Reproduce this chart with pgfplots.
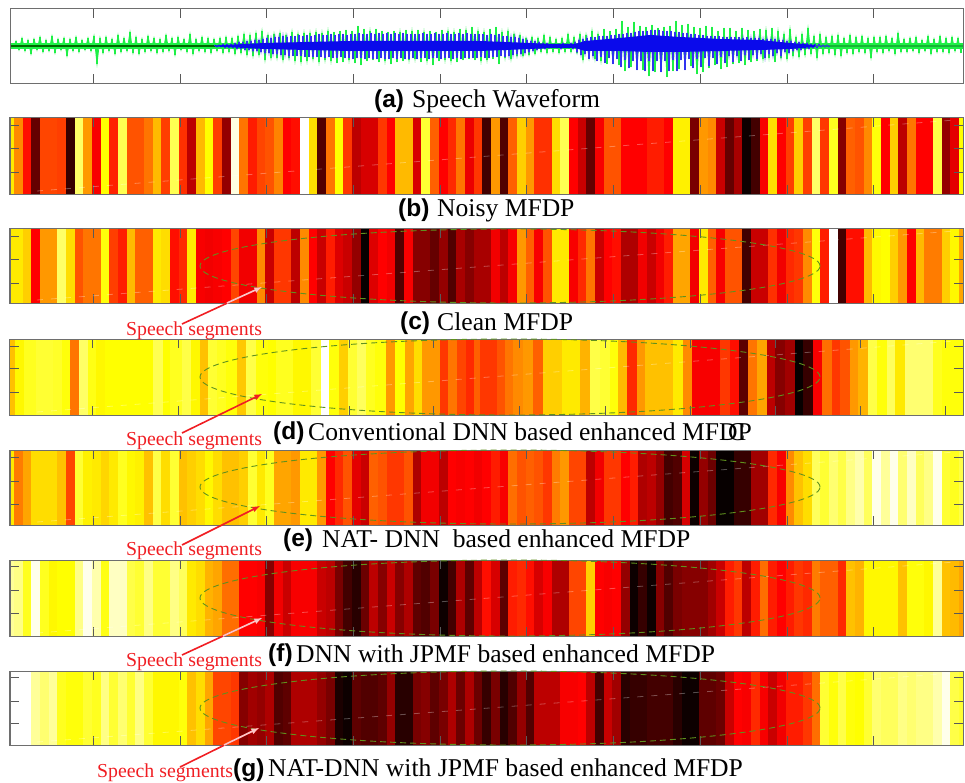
\documentclass[border=0pt]{standalone}
\usepackage{pgfplots}
\usepackage{pgfplotstable}
\pgfplotsset{compat=1.18}
\usepackage{fontspec}
\setmainfont{Liberation Serif}
\newfontfamily\capsans{Liberation Sans}
\definecolor{frame}{RGB}{110,110,110}
\definecolor{ell}{RGB}{95,145,30}
\definecolor{arrowred}{RGB}{240,30,35}
\definecolor{wavegreen}{RGB}{30,240,70}
\definecolor{waveblue}{RGB}{10,10,235}
\definecolor{spikeblue}{RGB}{50,50,240}
\pgfdeclareplotmark{cell}{\pgfpathrectangle{\pgfpoint{0pt}{-90pt}}{\pgfpoint{24pt}{180pt}}\pgfusepathqfill}
\pgfplotsset{
  panelbase/.style={scale only axis,anchor=north west,width=953pt,xmin=10,xmax=963,
    axis line style={frame,line width=1pt},axis on top,
    xtick={93.3,180,266.7,353.4,440.1,526.8,613.5,700.2,786.9,873.6},
    xticklabels={},yticklabels={},
    tick style={color=black!65,line width=.8pt},major tick length=9pt,tick align=inside},
  stripaxis/.style 2 args={panelbase,at={(10pt,-#1pt)},height=#2pt,ymin=0,ymax=#2,
    clip marker paths=true,
    colormap={myhot}{[1pt] rgb255(0pt)=(0,0,0); rgb255(38pt)=(255,0,0); rgb255(75pt)=(255,255,0); rgb255(100pt)=(255,255,255)},
    point meta min=0,point meta max=100},
  heatcolumns/.style={scatter,only marks,mark=cell,
    scatter/use mapped color={draw=none,fill=mapped color}},
  table/regcols/.style={row sep=\\,header=false,x expr=5.33+8.67*\coordindex,y expr=30},
  table/explicitcols/.style={row sep=\\,header=false,x index=0,y expr=30}
}
\pgfplotstableread[row sep=\\,header=false]{2\\-2\\5\\-4\\8\\-5\\6\\-8\\7\\-4\\9\\-6\\6\\-5\\10\\-7\\7\\-4\\8\\-10\\7\\-5\\9\\-6\\6\\-4\\8\\-5\\10\\-18\\8\\-7\\9\\-5\\7\\-8\\11\\-6\\8\\-5\\14\\-7\\9\\-8\\7\\-6\\10\\-5\\8\\-7\\7\\-6\\11\\-5\\8\\-9\\9\\-4\\7\\-6\\12\\-8\\7\\-5\\9\\-6\\8\\-7\\7\\-5\\8\\-7\\9\\-6\\8\\-8\\10\\-7\\12\\-9\\11\\-10\\13\\-9\\15\\-14\\11\\-12\\12\\-12\\13\\-14\\11\\-12\\14\\-15\\12\\-16\\13\\-15\\13\\-13\\14\\-16\\13\\-14\\15\\-15\\14\\-17\\15\\-16\\16\\-14\\15\\-17\\20\\-19\\17\\-15\\15\\-14\\17\\-16\\15\\-15\\14\\-18\\15\\-16\\14\\-15\\16\\-14\\15\\-13\\16\\-16\\14\\-15\\15\\-19\\14\\-15\\16\\-14\\15\\-15\\14\\-16\\17\\-14\\16\\-13\\19\\-14\\15\\-15\\14\\-14\\17\\-13\\19\\-18\\14\\-12\\15\\-13\\12\\-10\\11\\-10\\8\\-9\\9\\-8\\8\\-6\\11\\-7\\9\\-6\\7\\-7\\8\\-6\\12\\-6\\9\\-7\\12\\-14\\11\\-12\\15\\-13\\12\\-15\\17\\-18\\15\\-17\\17\\-19\\25\\-25\\19\\-21\\24\\-22\\20\\-24\\19\\-30\\21\\-26\\18\\-25\\19\\-31\\20\\-25\\25\\-23\\21\\-21\\22\\-20\\19\\-28\\18\\-26\\20\\-22\\19\\-19\\15\\-23\\18\\-21\\18\\-18\\15\\-17\\18\\-19\\16\\-16\\15\\-15\\17\\-13\\16\\-12\\18\\-16\\15\\-12\\12\\-13\\17\\-10\\9\\-11\\12\\-9\\18\\-8\\10\\-12\\12\\-8\\9\\-7\\10\\-9\\11\\-10\\8\\-7\\11\\-8\\9\\-6\\10\\-7\\8\\-12\\9\\-6\\9\\-7\\10\\-5\\8\\-8\\13\\-6\\7\\-6\\8\\-5\\9\\-7\\6\\-5\\10\\-8\\7\\-6\\10\\-6\\8\\-7\\9\\-5\\8\\-7\\}\greenwave
\pgfplotstableread[row sep=\\,header=false]{1\\-1\\1\\-1\\2\\-2\\2\\-2\\2\\-2\\3\\-3\\4\\-3\\4\\-4\\5\\-4\\5\\-5\\6\\-5\\6\\-6\\7\\-7\\8\\-7\\8\\-8\\9\\-8\\9\\-9\\10\\-9\\9\\-10\\10\\-10\\10\\-10\\11\\-10\\10\\-11\\11\\-11\\10\\-11\\11\\-11\\12\\-11\\11\\-12\\11\\-11\\12\\-12\\11\\-12\\12\\-11\\12\\-12\\11\\-12\\12\\-13\\12\\-12\\13\\-12\\12\\-13\\12\\-12\\13\\-13\\12\\-13\\13\\-12\\12\\-13\\13\\-13\\12\\-12\\13\\-13\\12\\-12\\13\\-13\\12\\-13\\12\\-12\\12\\-13\\12\\-12\\13\\-12\\12\\-13\\12\\-12\\13\\-12\\12\\-13\\12\\-12\\13\\-12\\12\\-13\\12\\-12\\13\\-13\\12\\-12\\13\\-12\\12\\-12\\12\\-12\\12\\-11\\12\\-12\\11\\-12\\12\\-11\\11\\-11\\12\\-10\\10\\-11\\10\\-10\\9\\-9\\9\\-8\\8\\-8\\7\\-7\\6\\-6\\5\\-5\\5\\-4\\4\\-3\\3\\-3\\3\\-2\\2\\-2\\2\\-2\\2\\-3\\3\\-2\\2\\-2\\3\\-3\\4\\-6\\6\\-9\\7\\-8\\8\\-13\\9\\-10\\9\\-15\\10\\-11\\10\\-17\\10\\-12\\11\\-18\\11\\-13\\12\\-21\\12\\-14\\13\\-22\\13\\-15\\14\\-24\\15\\-15\\15\\-25\\15\\-15\\16\\-25\\16\\-15\\16\\-26\\15\\-15\\15\\-25\\15\\-14\\14\\-25\\14\\-14\\13\\-24\\13\\-13\\12\\-22\\12\\-13\\11\\-21\\11\\-12\\10\\-20\\10\\-12\\10\\-18\\10\\-11\\9\\-17\\9\\-10\\9\\-16\\9\\-10\\9\\-15\\8\\-9\\9\\-14\\8\\-9\\8\\-13\\8\\-8\\7\\-12\\7\\-8\\7\\-10\\7\\-7\\6\\-10\\6\\-6\\5\\-7\\5\\-5\\4\\-4\\4\\-4\\3\\-3\\3\\-3\\2\\-2\\2\\-2\\2\\-1\\1\\-1\\1\\-1\\}\bluewave
\newcommand\seg[6]{%
 \draw[arrowred,line width=1.6pt,-latex] (#1pt,-#2pt) -- (#3pt,-#4pt);
 \node[anchor=base west,inner sep=0pt,text=arrowred] at (#5pt,-#6pt) {\fontsize{19.8}{20}\selectfont Speech segments};}
\newcommand\deco[2]{%
 \draw[white,opacity=.3,dash pattern=on 6pt off 8pt,line width=.8pt] (37pt,-#2pt+3pt) -- (955pt,-#1pt-2pt);}
\newcommand\ellip[2]{\draw[ell,dash pattern=on 6pt off 4pt,line width=.9pt] (510pt,-#1pt) ellipse [x radius=310pt,y radius=#2pt];}
\newcommand\Tcap[3]{\node[anchor=base west,inner sep=0pt] at (#1pt,-#3pt) {\capsans\bfseries\fontsize{24.5}{24.5}\selectfont #2};}
\newcommand\Ccap[3]{\node[anchor=base west,inner sep=0pt] at (#1pt,-#2pt) {\fontsize{25.6}{26}\selectfont #3};}
\begin{document}
\begin{tikzpicture}[x=1pt,y=1pt]
\path[use as bounding box] (0pt,0pt) rectangle (965pt,-783pt);
% ---------- (a) waveform
\begin{axis}[panelbase,at={(10pt,-9pt)},height=74pt,ymin=-37,ymax=37,ytick=\empty]
\addplot[no marks,wavegreen,line width=.8pt] table[x expr=10+3*\coordindex,y index=0] {\greenwave};
\addplot[ycomb,no marks,wavegreen,line width=1.1pt] table[x expr=10+3*\coordindex,y index=0] {\greenwave};
\addplot[wavegreen,line width=6pt] coordinates {(10,0)(963,0)};
\addplot[black!60!green,line width=1.3pt] coordinates {(10,0)(215,0)};
\addplot[wavegreen!75!black,line width=1.3pt] coordinates {(815,0)(963,0)};
\addplot[no marks,spikeblue,line width=.8pt] table[x expr=215+2*\coordindex,y index=0] {\bluewave};
\addplot[ycomb,no marks,spikeblue,line width=1.2pt] table[x expr=215+2*\coordindex,y index=0] {\bluewave};
\addplot[fill=waveblue,draw=none] coordinates {(215,0.5)(265,3)(350,5)(480,5)(530,3)(550,2)(575,2)(585,5)(620,8)(650,11)(680,9)(720,7)(760,6)(790,3)(815,1)(815,-1)(790,-3)(760,-4)(720,-5)(680,-6)(650,-6)(620,-5)(585,-5)(575,-2)(550,-2)(530,-3)(480,-5)(350,-5)(265,-3)(215,-0.5)} \closedcycle;
\end{axis}
% ---------- (b)
\begin{axis}[stripaxis={118}{76},ytick={22,46,69}]
\addplot[heatcolumns,point meta=\thisrowno{1}] table[explicitcols] {10 72\\};
\addplot[heatcolumns,point meta=\thisrowno{0}] table[regcols] {72\\58\\40\\15\\48\\48\\47\\8\\85\\60\\37\\75\\43\\83\\50\\50\\55\\65\\47\\83\\45\\28\\65\\75\\47\\22\\97\\55\\42\\48\\50\\57\\38\\40\\100\\70\\12\\55\\75\\46\\28\\32\\32\\46\\38\\65\\65\\32\\80\\52\\38\\44\\55\\35\\46\\10\\60\\12\\52\\68\\60\\45\\45\\70\\83\\38\\30\\15\\37\\50\\50\\38\\38\\38\\42\\42\\38\\73\\73\\18\\60\\58\\30\\15\\25\\2\\10\\37\\70\\38\\47\\68\\47\\85\\46\\78\\20\\52\\50\\58\\76\\38\\68\\28\\55\\38\\38\\82\\22\\34\\75\\};
\end{axis}
% ---------- (c)
\begin{axis}[stripaxis={229}{74},ytick={20,44,67}]
\addplot[heatcolumns,point meta=\thisrowno{1}] table[explicitcols] {10 72\\};
\addplot[heatcolumns,point meta=\thisrowno{0}] table[regcols] {72\\72\\68\\38\\60\\60\\85\\70\\50\\55\\55\\76\\47\\42\\65\\52\\52\\72\\70\\40\\44\\72\\37\\36\\37\\38\\48\\36\\36\\58\\30\\46\\46\\28\\58\\38\\30\\42\\33\\30\\22\\1\\33\\38\\36\\12\\37\\20\\20\\15\\22\\12\\25\\20\\25\\25\\36\\28\\37\\60\\52\\37\\50\\72\\72\\37\\44\\55\\30\\38\\40\\26\\26\\36\\30\\36\\42\\62\\62\\36\\72\\52\\37\\50\\50\\10\\30\\30\\45\\36\\44\\46\\58\\76\\42\\100\\10\\40\\40\\65\\74\\75\\68\\60\\38\\65\\56\\56\\68\\74\\62\\};
\end{axis}
% ---------- (d)
\begin{axis}[stripaxis={339}{76},ytick={23,47,69},xtick={92.3,178.7,263,349,433,519,605,690,775.7,860,945.7}]
\addplot[heatcolumns,point meta=\thisrowno{1}] table[explicitcols] {10 66\\15 74\\24 78\\36 80\\44.7 80\\53.3 79\\61.7 76\\70.3 55\\79 85\\87.7 77\\96 74\\104.7 75\\113.3 75\\122 75\\130.3 75\\139 75\\147.7 75\\153.3 83\\163 75\\170 78\\182 82\\190.7 74\\200 66\\208 80\\217 78\\226 76\\237 67\\246 82\\256 76\\268 75\\276 78\\293 74\\311 80\\320.7 100\\329.3 76\\339 68\\348 80\\357 84\\366 78\\375 76\\386 60\\395 75\\405 62\\414 70\\422 60\\440 46\\448 55\\457 48\\466 44\\474 52\\480 46\\488 46\\497 50\\505 55\\513 58\\523 60\\533 52\\543 68\\552 68\\562 72\\570 72\\580 64\\590 82\\600 80\\610 76\\618 65\\627 44\\637 60\\645 66\\655 66\\663 66\\673 72\\683 58\\692 37\\702 37\\710 37\\720 46\\730 40\\739 14\\748 55\\757 62\\767 28\\775 20\\785 24\\795 1\\803 8\\813 37\\822 54\\832 46\\840 50\\850 60\\858 64\\868 82\\877 76\\887 84\\895 72\\905 86\\913 86\\923 86\\933 78\\942 76\\952 76\\};
\end{axis}
% ---------- (e)
\begin{axis}[stripaxis={450}{75},ytick={21,44,68}]
\addplot[heatcolumns,point meta=\thisrowno{1}] table[explicitcols] {10 72\\};
\addplot[heatcolumns,point meta=\thisrowno{0}] table[regcols] {72\\56\\62\\70\\70\\70\\66\\48\\80\\73\\72\\69\\72\\78\\74\\73\\66\\82\\70\\80\\66\\68\\70\\74\\70\\66\\66\\68\\80\\72\\78\\62\\62\\60\\72\\72\\60\\38\\44\\50\\34\\30\\52\\50\\46\\46\\50\\26\\36\\36\\28\\38\\37\\38\\36\\38\\42\\37\\54\\50\\52\\50\\46\\56\\60\\48\\48\\28\\36\\46\\46\\38\\42\\26\\28\\22\\10\\12\\32\\2\\22\\16\\1\\1\\8\\8\\24\\24\\44\\37\\58\\66\\70\\84\\80\\86\\82\\88\\92\\84\\98\\90\\98\\86\\94\\84\\88\\98\\80\\78\\82\\};
\end{axis}
% ---------- (f)
\begin{axis}[stripaxis={560}{76},ytick={23,46,70}]
\addplot[heatcolumns,point meta=\thisrowno{1}] table[explicitcols] {10 90\\};
\addplot[heatcolumns,point meta=\thisrowno{0}] table[regcols] {90\\88\\78\\98\\78\\74\\75\\75\\88\\98\\92\\77\\94\\94\\82\\80\\88\\80\\80\\88\\84\\72\\70\\64\\62\\54\\54\\38\\38\\37\\20\\36\\30\\37\\37\\37\\30\\28\\18\\10\\6\\16\\28\\20\\30\\20\\26\\14\\12\\18\\2\\10\\26\\14\\28\\40\\32\\14\\42\\44\\40\\32\\37\\26\\26\\48\\48\\68\\38\\37\\38\\22\\2\\8\\2\\20\\12\\18\\20\\20\\20\\24\\30\\42\\46\\28\\42\\54\\42\\38\\42\\46\\44\\56\\52\\52\\44\\66\\64\\74\\74\\74\\74\\66\\76\\76\\74\\90\\66\\65\\62\\};
\end{axis}
% ---------- (g)
\begin{axis}[stripaxis={671}{74},ytick={22,44,68}]
\addplot[heatcolumns,point meta=\thisrowno{0}] table[regcols] {100\\100\\100\\90\\86\\90\\78\\76\\76\\80\\78\\88\\80\\86\\80\\88\\80\\74\\74\\74\\76\\66\\70\\62\\48\\48\\46\\20\\24\\22\\26\\12\\14\\26\\26\\26\\22\\18\\4\\2\\14\\12\\12\\14\\22\\6\\6\\18\\20\\14\\18\\26\\16\\26\\16\\8\\18\\6\\12\\22\\12\\28\\28\\28\\37\\37\\38\\28\\10\\30\\24\\6\\8\\8\\10\\10\\10\\6\\2\\2\\14\\14\\16\\30\\38\\37\\44\\37\\30\\36\\42\\42\\46\\54\\80\\76\\82\\76\\75\\80\\86\\84\\84\\88\\86\\88\\88\\92\\98\\82\\80\\};
\end{axis}
% ---------- annotations
\deco{118}{194}\deco{229}{303}\deco{339}{415}\deco{450}{525}\deco{560}{636}\deco{671}{745}
\ellip{266}{37}\ellip{377}{38}\ellip{487}{37}\ellip{598}{38}\ellip{708}{37}
\seg{182}{324}{262}{287}{126}{335}
\seg{182}{433}{262}{394}{126}{445}
\seg{182}{545}{260}{506}{126}{555}
\seg{182}{655}{262}{618}{126}{666}
\seg{180}{767}{259}{728}{97}{777}
\draw[white!75!arrowred,line width=1.6pt,-latex] (227pt,-303pt) -- (262pt,-287pt);
\draw[white!75!arrowred,line width=1.6pt,-latex] (223pt,-636pt) -- (262pt,-618pt);
\draw[white!75!arrowred,line width=1.6pt,-latex] (224pt,-745pt) -- (259pt,-728pt);
% ---------- captions
\Tcap{374}{(a)}{108}\Ccap{412}{108}{Speech Waveform}
\Tcap{398}{(b)}{217}\Ccap{437}{217}{Noisy MFDP}
\Tcap{400}{(c)}{329}\Ccap{437}{330}{Clean MFDP}
\Tcap{273}{(d)}{439}\Ccap{308}{440}{Conventional DNN based enhanced MFDP}\Ccap{728}{440}{C}
\Tcap{283}{(e)}{546}\Ccap{322}{547}{NAT- DNN\ \ based enhanced MFDP}
\Tcap{268}{(f)}{661}\Ccap{296}{662}{DNN with JPMF based enhanced MFDP}
\Tcap{233}{(g)}{776}\Ccap{268}{776}{NAT-DNN with JPMF based enhanced MFDP}
\end{tikzpicture}
\end{document}
